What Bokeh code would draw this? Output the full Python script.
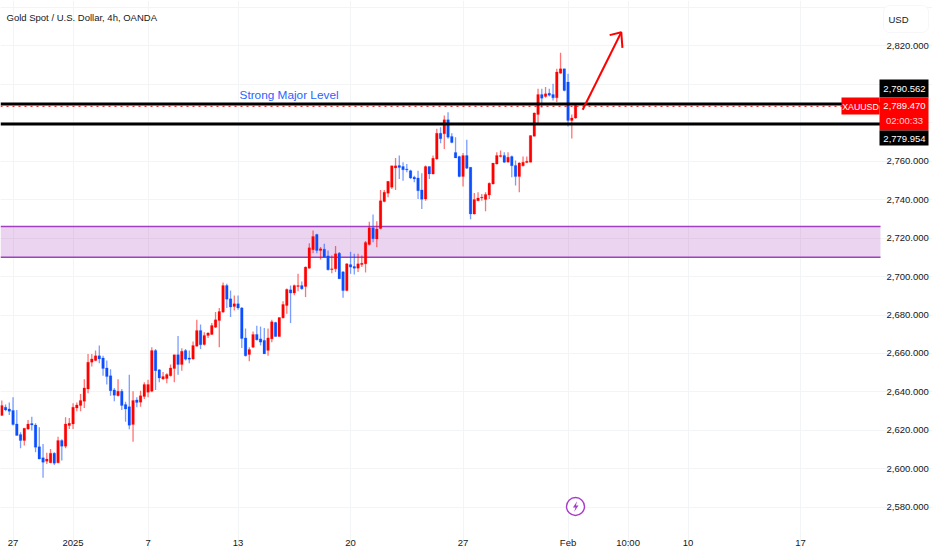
from bokeh.plotting import figure
from bokeh.models import ColumnDataSource, FixedTicker, NumeralTickFormatter, BoxAnnotation, Label
from bokeh.embed import file_html
from bokeh.resources import INLINE

title = "Gold Spot / U.S. Dollar, 4h, OANDA"
# open, high, low, close per 4h bar
opens = [2627.8,2632.1,2631.2,2630.4,2623.4,2617.9,2614.8,2620.8,2623.6,2622.9,2611.6,2605.8,2604.0,2603.3,2608.2,2603.2,2614.8,2611.8,2622.6,2623.4,
2631.7,2633.0,2635.2,2641.6,2655.5,2656.3,2658.8,2657.7,2652.5,2648.5,2641.1,2638.1,2640.4,2633.5,2632.4,2623.1,2635.9,2634.7,2637.6,2639.9,
2640.4,2661.5,2651.5,2646.8,2647.0,2648.5,2652.2,2659.4,2654.3,2661.5,2657.7,2657.2,2663.8,2672.0,2664.7,2669.4,2669.9,2673.7,2677.1,2681.5,
2695.3,2688.4,2684.4,2685.8,2683.7,2668.1,2659.5,2663.3,2669.9,2667.6,2666.8,2661.6,2667.6,2676.1,2668.8,2678.5,2684.9,2693.1,2691.4,2694.8,
2695.3,2694.8,2704.3,2713.9,2721.8,2713.5,2714.2,2710.7,2703.6,2704.0,2712.1,2702.4,2692.7,2706.2,2705.2,2704.3,2706.2,2706.6,2716.6,2725.3,
2719.5,2724.9,2738.9,2743.3,2746.4,2756.4,2757.6,2757.1,2755.9,2755.0,2751.6,2751.2,2745.0,2740.3,2757.1,2753.3,2761.1,2774.4,2774.1,2781.4,
2772.7,2764.4,2762.3,2751.9,2762.8,2756.8,2732.5,2739.4,2740.8,2740.0,2742.4,2748.1,2758.5,2762.3,2762.9,2759.4,2762.3,2757.7,2751.9,2757.5,
2759.2,2759.4,2772.9,2784.2,2794.5,2793.5,2795.2,2794.5,2792.8,2805.6,2807.9,2801.0,2781.0,2782.3]
highs = [2635.6,2633.5,2634.5,2637.3,2630.7,2619.1,2621.2,2625.5,2627.2,2623.8,2621.7,2613.0,2608.5,2610.4,2608.7,2616.8,2615.5,2626.9,2626.5,2634.2,
2634.5,2639.0,2646.6,2659.8,2659.8,2661.5,2664.1,2658.8,2656.3,2651.8,2642.1,2646.6,2641.6,2634.9,2648.9,2640.4,2637.3,2640.7,2645.1,2646.3,
2663.3,2662.4,2651.8,2650.4,2649.8,2654.3,2659.4,2669.1,2662.7,2662.4,2661.5,2666.2,2677.5,2675.1,2671.1,2671.1,2675.8,2681.5,2683.7,2696.9,
2696.2,2692.7,2690.1,2690.1,2684.1,2673.0,2663.3,2671.4,2674.4,2674.0,2673.3,2673.0,2677.5,2676.5,2678.7,2687.2,2693.8,2695.3,2695.9,2701.4,
2697.4,2705.2,2717.3,2723.9,2722.2,2715.3,2717.0,2713.5,2710.9,2715.9,2712.7,2702.8,2706.9,2712.8,2711.8,2711.8,2710.9,2718.4,2728.4,2732.2,
2728.7,2745.0,2745.0,2749.5,2757.5,2761.6,2762.8,2759.4,2758.5,2755.4,2752.4,2755.0,2753.6,2757.6,2757.1,2762.8,2776.7,2777.5,2783.6,2785.3,
2774.4,2772.4,2762.7,2764.2,2771.0,2756.8,2743.4,2743.8,2742.9,2743.8,2748.8,2758.9,2764.6,2765.5,2764.6,2764.6,2762.9,2760.3,2759.4,2762.3,
2762.3,2773.2,2785.2,2797.5,2797.5,2798.4,2797.5,2800.1,2807.9,2816.2,2807.9,2805.3,2784.2,2789.2]
lows = [2627.8,2630.0,2628.1,2622.6,2617.4,2610.8,2612.2,2620.3,2620.0,2608.7,2605.1,2595.4,2602.6,2603.0,2602.1,2603.0,2604.4,2610.8,2620.8,2620.8,
2630.0,2630.0,2631.7,2639.4,2653.2,2656.0,2654.9,2648.5,2643.9,2638.1,2635.2,2637.6,2630.7,2624.6,2620.7,2614.1,2632.1,2632.4,2636.4,2637.3,
2639.9,2641.1,2645.1,2646.3,2644.6,2648.0,2645.1,2648.9,2651.1,2656.3,2654.9,2656.7,2663.6,2662.4,2664.2,2668.1,2669.7,2673.3,2663.3,2681.0,
2683.7,2678.9,2682.3,2682.7,2662.9,2658.4,2656.0,2662.9,2666.8,2664.2,2659.8,2658.8,2665.9,2668.8,2668.8,2678.2,2680.6,2675.8,2690.3,2692.4,
2693.1,2689.3,2704.0,2712.1,2712.1,2708.8,2709.7,2703.1,2701.7,2702.3,2698.8,2688.9,2692.4,2701.4,2701.0,2702.4,2704.9,2702.1,2716.1,2717.8,
2715.2,2724.5,2738.6,2741.2,2745.5,2745.0,2750.7,2749.8,2754.2,2750.7,2749.0,2740.3,2735.1,2739.4,2750.7,2753.0,2760.7,2769.2,2766.3,2771.5,
2769.2,2761.6,2751.6,2746.7,2755.9,2729.7,2732.2,2739.1,2739.4,2733.9,2740.3,2747.8,2758.2,2762.0,2759.0,2759.4,2751.6,2747.3,2743.8,2757.1,
2758.9,2759.2,2772.7,2779.3,2787.6,2792.8,2793.5,2791.4,2790.6,2805.3,2796.3,2777.9,2771.7,2781.9]
closes = [2633.0,2630.7,2630.0,2623.1,2617.4,2614.8,2621.2,2623.4,2622.9,2611.3,2605.2,2603.5,2605.2,2608.2,2603.0,2614.8,2611.8,2623.4,2623.8,2632.1,
2633.3,2635.6,2642.1,2655.5,2657.2,2658.8,2657.2,2652.2,2648.0,2640.7,2638.3,2640.4,2633.0,2631.2,2622.7,2635.6,2634.5,2638.1,2643.9,2643.9,
2661.5,2651.1,2647.3,2648.0,2649.1,2652.5,2659.4,2654.3,2661.2,2657.0,2657.0,2664.1,2671.9,2664.5,2669.4,2670.6,2674.5,2677.5,2681.8,2695.3,
2688.2,2684.1,2685.8,2683.7,2667.8,2658.8,2662.1,2669.9,2667.1,2665.9,2659.8,2668.1,2676.5,2668.8,2678.7,2685.5,2693.3,2691.4,2695.3,2695.3,
2693.6,2704.9,2714.9,2720.8,2713.5,2714.4,2710.1,2703.5,2704.0,2711.8,2698.8,2692.7,2706.6,2704.9,2704.3,2706.6,2706.9,2717.7,2725.3,2719.6,
2724.7,2739.4,2743.8,2749.5,2757.5,2757.5,2756.6,2755.4,2755.4,2751.2,2750.7,2744.6,2740.1,2757.1,2753.3,2761.4,2774.4,2771.5,2781.4,2772.4,
2769.6,2761.6,2751.9,2762.8,2756.2,2732.5,2740.0,2740.8,2741.2,2742.6,2748.5,2758.9,2762.9,2762.9,2759.4,2762.0,2757.5,2751.9,2759.0,2759.4,
2759.9,2773.2,2784.9,2794.5,2792.6,2794.9,2794.2,2792.8,2806.2,2807.9,2796.6,2781.0,2782.4,2788.8]
bars = list(range(1, len(opens) + 1))

price_ticks = [2580,2600,2620,2640,2660,2680,2700,2720,2740,2760,2780,2800,2820,2840]
time_ticks = [4,20,40,64,94,124,152,168,184,214]
time_labels = ["27","2025","7","13","20","27","Feb","10:00","10","17"]

levels = [2789.6, 2779.2]
last_price = 2788.4
zone = (2710.0, 2726.0)
arrow_x = [155.9, 166.2]
arrow_y = [2786.6, 2826.9]
head_x = [163.1, 166.2, 166.5]
head_y = [2825.4, 2826.9, 2818.8]

FONT = "Liberation Sans"
INK = "#131722"
UP = "#ff0000"
DOWN = "#0b4fff"

W, H = 932, 550
x0, x1 = 0.653, 249.19
y0, y1 = 2557.66, 2843.38

def bx(px):
    return x0 + px / W * (x1 - x0)
def by(py):
    return y1 - py / H * (y1 - y0)

pane_right = bx(880)
pane_bottom = by(522)

p = figure(width=W, height=H, output_backend="svg", toolbar_location=None,
           x_range=(x0, x1), y_range=(y0, y1), y_axis_location="right",
           min_border=0, outline_line_color=None, background_fill_color="white", border_fill_color="white",
           styles={"position": "absolute", "left": "0px", "top": "0px"})

p.yaxis.fixed_location = pane_right
p.xaxis.fixed_location = pane_bottom
p.yaxis.ticker = FixedTicker(ticks=price_ticks)
p.yaxis.formatter = NumeralTickFormatter(format="0,0.000")
p.yaxis.major_label_overrides = {2780: "", 2800: "", 2840: ""}
p.xaxis.ticker = FixedTicker(ticks=time_ticks)
p.xaxis.major_label_overrides = dict(zip(time_ticks, time_labels))
for ax in (p.xaxis[0], p.yaxis[0]):
    ax.axis_line_color = None
    ax.major_tick_line_color = None
    ax.minor_tick_line_color = None
    ax.major_label_text_font = FONT
    ax.major_label_text_font_size = "9.5px"
    ax.major_label_text_color = INK
p.yaxis.major_label_standoff = 0
p.xaxis.major_label_standoff = 8
p.xgrid.grid_line_color = "#f3f4f6"
p.ygrid.grid_line_color = "#f3f4f6"
p.xgrid.bounds = (pane_bottom, y1)
p.ygrid.bounds = (x0, pane_right)

p.quad(left=[x0], right=[pane_right], bottom=[zone[0]], top=[zone[1]], fill_color="#9c27b0", fill_alpha=0.2, line_color=None)
p.segment([x0, x0], zone, [pane_right, pane_right], zone, line_color="#a040c0", line_width=1.6)

colors = [UP if c >= o else DOWN for o, c in zip(opens, closes)]
src = ColumnDataSource(dict(x=bars, o=opens, h=highs, l=lows, c=closes, color=colors))
p.segment("x", "h", "x", "l", source=src, line_color="color", line_width=1.3, line_alpha=0.55)
p.vbar(x="x", bottom="o", top="c", width=0.7, source=src, fill_color="color", line_color="color", line_width=0.2)

p.segment([x0, x0], levels, [pane_right, pane_right], levels, line_color="#000000", line_width=3)
p.segment([x0], [last_price], [pane_right], [last_price], line_color="#ff0000", line_width=1, line_dash="dotted")

p.line(arrow_x, arrow_y, line_color="#ff0000", line_width=2)
p.line(head_x, head_y, line_color="#ff0000", line_width=2)

p.text([64.4], [2794.5], text=["Strong Major Level"], text_color="#2962ff", text_font={"value": FONT},
       text_font_size="11.8px", text_baseline="middle", text_align="left")

# event marker with its bolt
p.scatter([bx(575)], [by(506)], size=18, marker="circle", fill_color="white", line_color="#a93cc9", line_width=1.4)
p.patch([bx(v) for v in (576.6, 572.4, 575, 573.6, 578, 575.4)],
        [by(v) for v in (500.8, 507, 507, 511.4, 505, 505)], fill_color="#a93cc9", line_color=None)

def tag(left, right, top, bottom, fill, line=None, radius=0):
    p.add_layout(BoxAnnotation(left=bx(left), right=bx(right), top=by(top), bottom=by(bottom),
                               fill_color=fill, fill_alpha=1, line_color=line, border_radius=radius, level="annotation"))

def txt(px, py, s, color=INK, size="9.5px", align="left"):
    p.add_layout(Label(x=bx(px), y=by(py), text=s, text_color=color, text_font=FONT, text_font_size=size,
                       text_baseline="middle", text_align=align))

tag(883, 928, 5, 32, "white", "#e0e3eb", 6)
txt(888, 19, "USD")
tag(841, 879, 97, 114, "#ff0000")
txt(860, 106, "XAUUSD", "white", "8.8px", "center")
tag(879, 928, 79, 97, "#000000")
tag(879, 928, 97, 130, "#ff0000")
tag(879, 928, 130, 145, "#000000")
txt(904, 88, "2,790.562", "white", "9.5px", "center")
txt(904, 105, "2,789.470", "white", "9.5px", "center")
txt(904, 120, "02:00:33", "#ffd0d0", "9.5px", "center")
txt(904, 138, "2,779.954", "white", "9.5px", "center")
txt(6, 17, title, INK, "9.5px")

open("out.html", "w").write(file_html(p, INLINE))
